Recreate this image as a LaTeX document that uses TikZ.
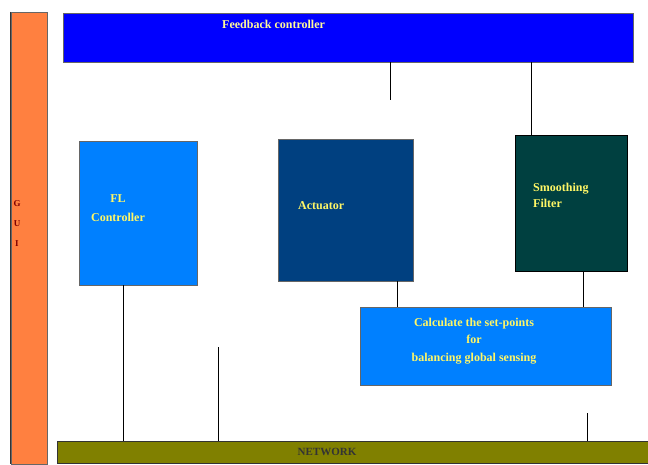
\documentclass[tikz,border=0pt]{standalone}
\usepackage{fontspec}
\setmainfont{Liberation Serif}
\begin{document}
\begin{tikzpicture}[x=1pt,y=-1pt,
  block/.style={draw=black!60, line width=0.4pt, inner sep=0pt},
  lbl/.style={text=yellow!60!white, font=\bfseries\fontsize{12}{15}\selectfont, inner sep=0pt, align=left},
  wire/.style={draw=black, line width=0.8pt}]
\definecolor{guiorange}{RGB}{255,128,64}
\definecolor{fbblue}{RGB}{0,0,255}
\definecolor{skyblue}{RGB}{0,128,255}
\definecolor{navy}{RGB}{0,64,128}
\definecolor{teal}{RGB}{0,64,64}
\definecolor{olive}{RGB}{128,128,0}
\useasboundingbox (0,0) rectangle (648,464);
\fill[white] (0,0) rectangle (648,464);

% side bar and top controller
\node[block, fill=guiorange, minimum width=36pt, minimum height=452pt] (gui) at (29,238) {};
\draw[black!80, line width=1pt] (gui.north west) -- (gui.south west);
\node[text=red!50!black, font=\bfseries\fontsize{9}{20}\selectfont, align=center, inner sep=0pt] (guitext) at (17,224) {G\\U\\I};
\node[block, fill=fbblue, minimum width=570pt, minimum height=49pt] (fb) at (348,37.5) {};
\node[lbl, text=yellow!40!white, anchor=west] (fbtext) at (222,24) {Feedback controller};

% processing blocks
\node[block, fill=skyblue, minimum width=118pt, minimum height=144pt] (flc) at (138,213) {};
\node[lbl, align=center, font=\bfseries\fontsize{12}{19}\selectfont] (flctext) at (118,208) {FL\\Controller};
\node[block, fill=navy, minimum width=135pt, minimum height=142pt] (act) at (345.5,210) {};
\node[lbl, anchor=west] (acttext) at (298,206) {Actuator};
\node[block, draw=black, fill=teal, minimum width=112pt, minimum height=136pt] (sf) at (571,203) {};
\node[lbl, anchor=west, font=\bfseries\fontsize{12}{16}\selectfont] (sftext) at (533,195) {Smoothing\\Filter};
\node[block, fill=skyblue, minimum width=251pt, minimum height=78pt] (calc) at (485.5,346) {};
\node[lbl, align=center, font=\bfseries\fontsize{12}{17.5}\selectfont] (calctext) at (474,341) {Calculate the set-points\\for\\balancing global sensing};

% network bus
\node[block, draw=black!80, fill=olive, minimum width=591pt, minimum height=22pt] (net) at (352.5,452) {};
\node[text=black!80, font=\bfseries\fontsize{11}{12}\selectfont, inner sep=0pt] (nettext) at (327,452) {NETWORK};

% free wire ends
\coordinate (fbtap) at (390,100);
\coordinate (bustapA) at (218,347);
\coordinate (bustapB) at (587,413);

% connectors
\draw[wire] (fb.south -| fbtap) -- (fbtap);
\draw[wire] (fb.south -| sf.north east) ++(-96,0) coordinate (sfx) -- (sfx |- sf.north);
\draw[wire] (act.south -| 397,0) -- (calc.north -| 397,0);
\draw[wire] (sf.south -| 583,0) -- (calc.north -| 583,0);
\draw[wire] (flc.south -| 123,0) -- (net.north -| 123,0);
\draw[wire] (bustapA) -- (net.north -| bustapA);
\draw[wire] (bustapB) -- (net.north -| bustapB);
\end{tikzpicture}
\end{document}
